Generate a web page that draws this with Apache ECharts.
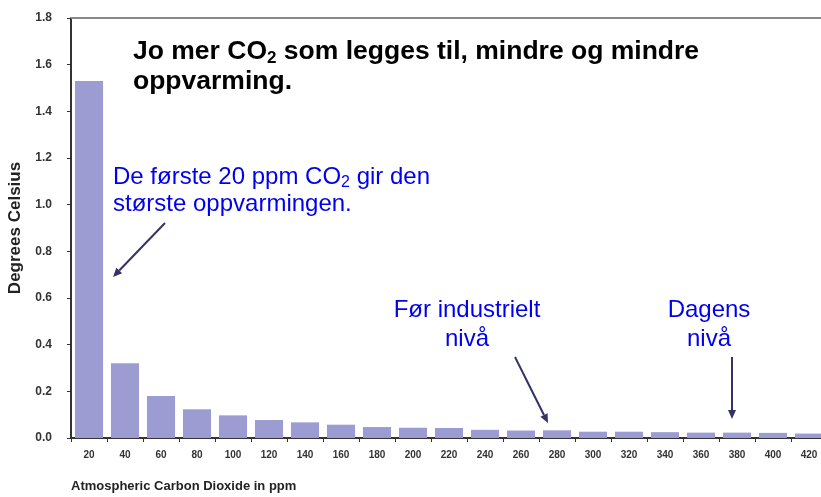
<!DOCTYPE html>
<html>
<head>
<meta charset="utf-8">
<script src="https://cdn.jsdelivr.net/npm/echarts@6/dist/echarts.min.js"></script>
<style>
  html, body { margin: 0; padding: 0; background: #fff; }
  #chart { width: 821px; height: 497px; }
</style>
</head>
<body>
<div id="chart"></div>
<script>
// ppm kategorier og oppvarming per 20 ppm
var categories = ['20', '40', '60', '80', '100', '120', '140', '160', '180', '200', '220',
                  '240', '260', '280', '300', '320', '340', '360', '380', '400', '420'];
var warming = [1.53, 0.32, 0.18, 0.123, 0.097, 0.077, 0.067, 0.057, 0.047, 0.044, 0.043,
               0.035, 0.032, 0.033, 0.027, 0.027, 0.025, 0.023, 0.023, 0.022, 0.019];

var myChart = echarts.init(document.getElementById('chart'));
var FONT = 'Arial, "Liberation Sans", sans-serif';

// pil = linje + spiss
function arrow(x1, y1, x2, y2) {
  var a = Math.atan2(y2 - y1, x2 - x1), L = 9, W = 4;
  var bx = x2 - L * Math.cos(a), by = y2 - L * Math.sin(a);
  return [{
    type: 'line',
    shape: { x1: x1, y1: y1, x2: bx, y2: by },
    style: { stroke: '#333366', lineWidth: 2 }
  }, {
    type: 'polygon',
    shape: { points: [[x2, y2],
      [bx + W * Math.sin(a), by - W * Math.cos(a)],
      [bx - W * Math.sin(a), by + W * Math.cos(a)]] },
    style: { fill: '#333366' }
  }];
}

var blue = { fill: '#0000ee', font: '24px ' + FONT };

myChart.setOption({
  backgroundColor: '#fff',
  animation: false,
  grid: { left: 71, top: 18, width: 756, height: 420, outerBoundsMode: 'none', containLabel: false },
  xAxis: [{
    type: 'category',
    data: categories,
    name: 'Atmospheric Carbon Dioxide in ppm',
    nameLocation: 'start',
    nameGap: 0,
    nameTextStyle: {
      fontWeight: 'bold', fontSize: 13, color: '#222', fontFamily: FONT,
      align: 'left', verticalAlign: 'top', padding: [42, 0, 0, 0]
    },
    axisLine: { lineStyle: { color: '#333', width: 2 } },
    axisTick: { show: true, length: 4, lineStyle: { color: '#333' } },
    axisLabel: { fontWeight: 'bold', fontSize: 10, color: '#333', margin: 12, fontFamily: FONT }
  }, {
    // ramme øverst
    type: 'category',
    position: 'top',
    data: categories,
    axisLine: { lineStyle: { color: '#888', width: 2 } },
    axisTick: { show: false },
    axisLabel: { show: false }
  }],
  yAxis: {
    type: 'value',
    min: 0,
    max: 1.8,
    interval: 0.2,
    name: 'Degrees Celsius',
    nameLocation: 'middle',
    nameGap: 47,
    nameTextStyle: { fontWeight: 'bold', fontSize: 17, color: '#222', fontFamily: FONT },
    splitLine: { show: false },
    axisLine: { show: true, lineStyle: { color: '#333', width: 2 } },
    axisTick: { show: true, length: 4, lineStyle: { color: '#333' } },
    axisLabel: {
      fontWeight: 'bold', fontSize: 12, color: '#333', margin: 19, fontFamily: FONT,
      formatter: function (v) { return v.toFixed(1); }
    }
  },
  series: [{
    type: 'bar',
    data: warming,
    barCategoryGap: '22%',
    itemStyle: { color: '#9c9cd2' }
  }],
  graphic: [{
    type: 'text', left: 133, top: 36,
    style: {
      text: '{b|Jo mer CO}{s|2}{b| som legges til, mindre og mindre}\n{b|oppvarming.}',
      rich: {
        b: { fontSize: 26.5, fontWeight: 'bold', fill: '#000', lineHeight: 30, fontFamily: FONT },
        s: { fontSize: 17, fontWeight: 'bold', fill: '#000', lineHeight: 30,
             padding: [14, 0, 0, 0], fontFamily: FONT }
      }
    }
  }, {
    type: 'text', left: 113, top: 163,
    style: {
      text: '{n|De første 20 ppm CO}{s|2}{n| gir den}\n{n|største oppvarmingen.}',
      rich: {
        n: { fontSize: 24, fill: '#0000ee', lineHeight: 27, fontFamily: FONT },
        s: { fontSize: 16, fill: '#0000ee', lineHeight: 27, padding: [12, 0, 0, 0], fontFamily: FONT }
      }
    }
  }, {
    type: 'text', x: 467, y: 296,
    style: Object.assign({ text: 'Før industrielt\nnivå', align: 'center', lineHeight: 29 }, blue)
  }, {
    type: 'text', x: 709, y: 296,
    style: Object.assign({ text: 'Dagens\nnivå', align: 'center', lineHeight: 29 }, blue)
  }]
  .concat(arrow(165, 223, 113, 277))
  .concat(arrow(515, 357, 548, 423))
  .concat(arrow(732, 357, 732, 419))
});
</script>
</body>
</html>
